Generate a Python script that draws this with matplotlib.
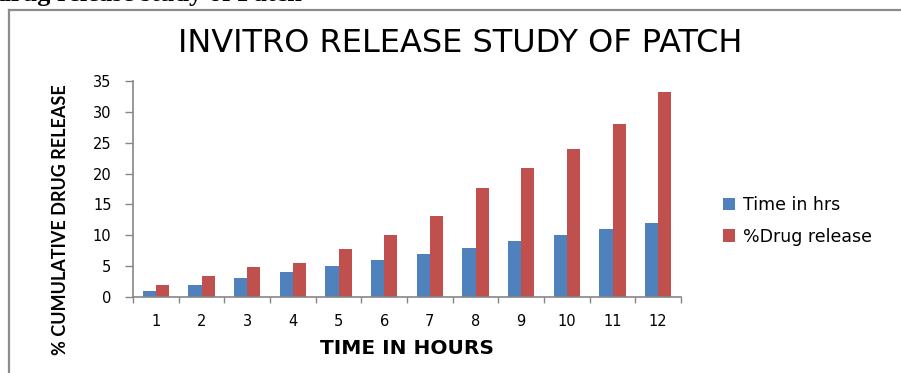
import matplotlib
matplotlib.use("Agg")
import matplotlib.pyplot as plt
import numpy as np
from matplotlib.lines import Line2D

# Data
hours = ["1", "2", "3", "4", "5", "6", "7", "8", "9", "10", "11", "12"]
time_in_hrs = [1, 2, 3, 4, 5, 6, 7, 8, 9, 10, 11, 12]
drug_release = [1.94, 3.45, 4.79, 5.5, 7.77, 10.03, 13.2, 17.64, 20.97, 23.95, 28.09, 33.17]
y_ticks = [0, 5, 10, 15, 20, 25, 30, 35]

BLUE = "#4F81BD"
RED = "#C0504D"
AXIS_GREY = "#868686"
FONT = "DejaVu Sans"
LABEL_FONT = "Lato"

W, H = 901, 373
fig = plt.figure(figsize=(W / 100, H / 100), dpi=100)
fig.patch.set_facecolor("white")

# Caption line from the surrounding document, partly cut at the top edge
fig.text(-4 / W, 1 - 1.5 / H, "drug release study of Patch", family="Liberation Serif",
         weight="bold", fontsize=19, ha="left", va="baseline", color="black")

# Chart frame (left and top edges visible)
fig.add_artist(Line2D([8.5 / W, 8.5 / W], [0, 1 - 9.5 / H], transform=fig.transFigure,
                      color="#8c8c8c", lw=1.6))
fig.add_artist(Line2D([8.5 / W, 1], [1 - 9.5 / H, 1 - 9.5 / H], transform=fig.transFigure,
                      color="#8c8c8c", lw=1.6))

ax = fig.add_axes([133 / W, (H - 297) / H, (681 - 133) / W, (297 - 81) / H])
x = np.arange(1, len(hours) + 1)
bw = 0.285
ax.bar(x - bw / 2, time_in_hrs, width=bw, color=BLUE, label="Time in hrs", zorder=2)
ax.bar(x + bw / 2, drug_release, width=bw, color=RED, label="%Drug release", zorder=2)

ax.set_xlim(0.5, len(hours) + 0.5)
ax.set_ylim(0, 35)
ax.set_yticks(y_ticks)
ax.set_xticks(x)
ax.set_xticklabels(hours)
ax.set_xticks(np.arange(0.5, len(hours) + 1, 1), minor=True)

for s in ["top", "right"]:
    ax.spines[s].set_visible(False)
for s in ["left", "bottom"]:
    ax.spines[s].set_color(AXIS_GREY)
    ax.spines[s].set_linewidth(1.2)

ax.tick_params(axis="y", direction="out", length=5.5, width=1, color=AXIS_GREY,
               labelsize=10.5, pad=10, labelcolor="black")
ax.tick_params(axis="x", which="major", length=0, labelsize=10.5, pad=12, labelcolor="black")
ax.tick_params(axis="x", which="minor", direction="out", length=4, width=1, color=AXIS_GREY)
for lab in ax.get_xticklabels() + ax.get_yticklabels():
    lab.set_family(FONT)

# Titles and axis labels
fig.text(460 / W, 1 - 43 / H, "INVITRO RELEASE STUDY OF PATCH", family=FONT,
         fontsize=23, ha="center", va="center", color="black")
fig.text(407 / W, 1 - 348 / H, "TIME IN HOURS", family=FONT, weight="bold",
         fontsize=14.5, ha="center", va="center", color="black")
fig.text(60 / W, 1 - 220 / H, "% CUMULATIVE DRUG RELEASE", family=LABEL_FONT, weight="bold",
         fontsize=13, ha="center", va="center", rotation=90, color="black")

leg = ax.legend(loc="center left", bbox_to_anchor=(707 / W, 1 - 221 / H),
                bbox_transform=fig.transFigure, frameon=False,
                prop={"family": FONT, "size": 12.5}, handlelength=0.7, handleheight=0.7,
                handletextpad=0.45, labelspacing=0.75)

fig.savefig("out.png", dpi=100)
